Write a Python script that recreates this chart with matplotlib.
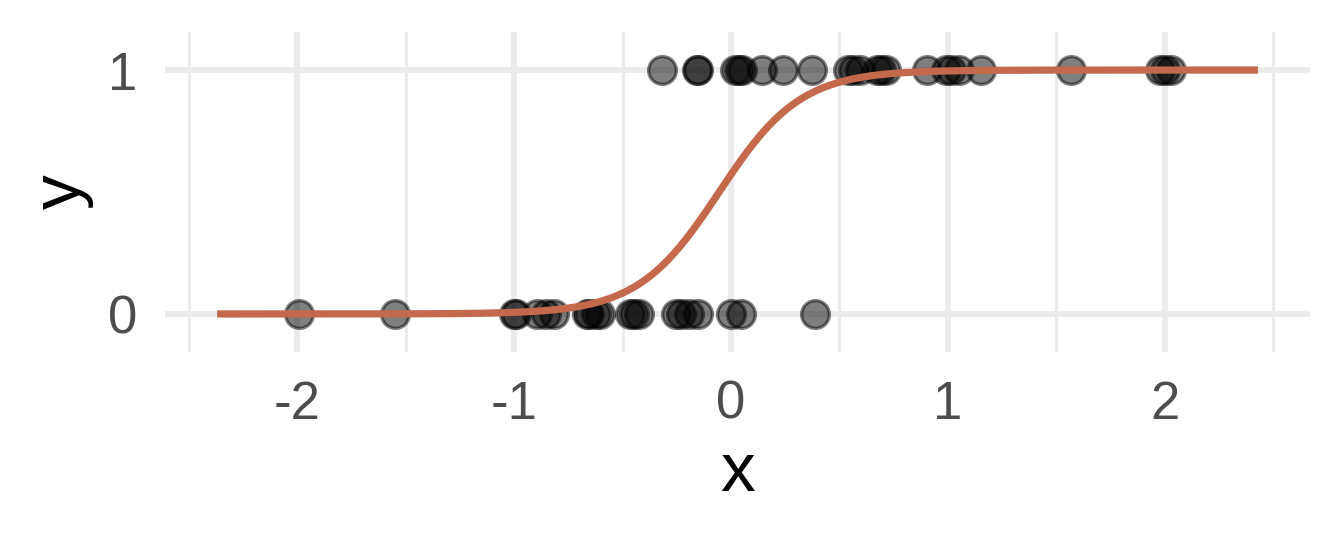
import numpy as np
import matplotlib.pyplot as plt

x_zero = [-1.99, -1.55, -1.00, -0.99, -0.894, -0.852, -0.817,
          -0.664, -0.655, -0.621, -0.604, -0.468, -0.445, -0.425,
          -0.254, -0.229, -0.195, -0.152, 0.002, 0.044, 0.386]
x_one = [-0.316, -0.158, -0.150, 0.020, 0.035, 0.050, 0.145, 0.239,
         0.375, 0.538, 0.563, 0.597, 0.674, 0.691, 0.717, 0.904,
         0.990, 1.015, 1.050, 1.152, 1.570, 1.980, 2.000, 2.030]

curve_from, curve_to = -2.37, 2.43
x_ticks = [-2, -1, 0, 1, 2]
y_ticks = [0, 1]

x = np.array(x_zero + x_one)
y = np.array([0] * len(x_zero) + [1] * len(x_one))

# logistic regression fit (glm, binomial) by Newton steps
X = np.column_stack([np.ones_like(x), x])
beta = np.zeros(2)
for it in range(50):
    p = 1 / (1 + np.exp(-X @ beta))
    W = p * (1 - p)
    H = X.T @ (X * W[:, None])
    g = X.T @ (y - p)
    beta = beta + np.linalg.solve(H, g)

xs = np.linspace(curve_from, curve_to, 300)
ys = 1 / (1 + np.exp(-(beta[0] + beta[1] * xs)))

plt.rcParams['font.family'] = ['Liberation Sans', 'DejaVu Sans']
fig = plt.figure(figsize=(6.72, 2.685), dpi=200)
ax = fig.add_axes([165 / 1344, 1 - 352 / 537, (1310 - 165) / 1344, (352 - 32) / 537])

grid_col = '#EBEBEB'
for v in [-2.5, -1.5, -0.5, 0.5, 1.5, 2.5]:
    ax.axvline(v, color=grid_col, lw=1.1, zorder=0)
for v in x_ticks:
    ax.axvline(v, color=grid_col, lw=2.1, zorder=0)
for v in y_ticks:
    ax.axhline(v, color=grid_col, lw=2.1, zorder=0)

ax.scatter(x, y, s=100, color='black', alpha=0.5, linewidths=1.2, zorder=2)
ax.plot(xs, ys, color='#C4694B', lw=2.6, zorder=3, solid_capstyle='butt')

ax.set_xlim(-2.61, 2.67)
ax.set_ylim(-0.156, 1.156)
ax.set_xticks(x_ticks)
ax.set_yticks(y_ticks)
ax.set_xticklabels([str(t) for t in x_ticks])
ax.set_yticklabels([str(t) for t in y_ticks])
ax.tick_params(length=0, labelsize=19, labelcolor='#4D4D4D', pad=10)
for s in ax.spines.values():
    s.set_visible(False)
ax.set_xlabel('x', fontsize=25, labelpad=4)
ax.set_ylabel('y', fontsize=25, labelpad=5)

fig.savefig('out.png', dpi=200, facecolor='white')
